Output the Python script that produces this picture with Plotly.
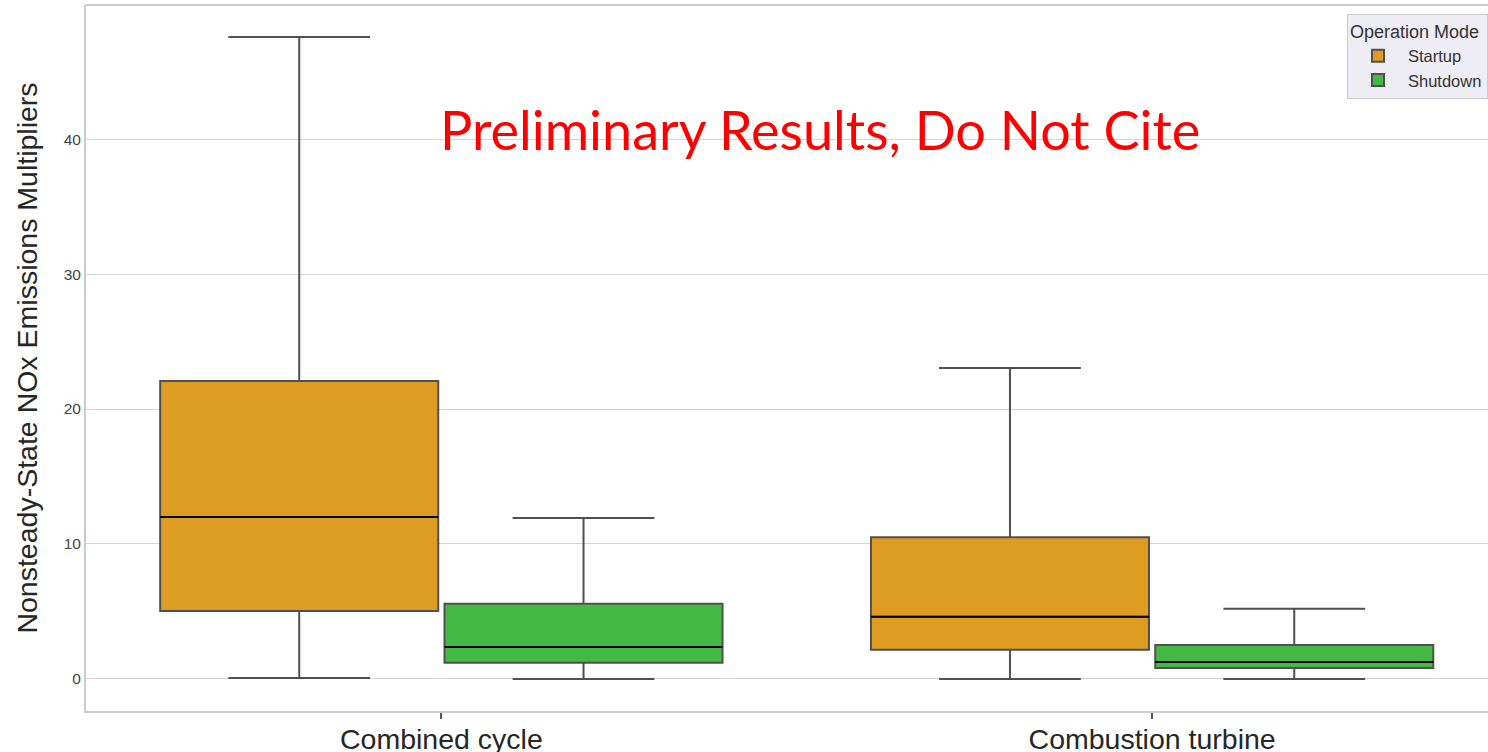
import plotly.graph_objects as go

categories = ["Combined cycle", "Combustion turbine"]
modes = ["Startup", "Shutdown"]
colors = {"Startup": "#DF9C22", "Shutdown": "#44B944"}

startup_lower = [0.07, 0.0]
startup_q1 = [5.04, 2.15]
startup_median = [12.0, 4.6]
startup_q3 = [22.07, 10.5]
startup_upper = [47.56, 23.04]

shutdown_lower = [0.0, 0.0]
shutdown_q1 = [1.19, 0.81]
shutdown_median = [2.37, 1.26]
shutdown_q3 = [5.56, 2.52]
shutdown_upper = [11.93, 5.19]

stats = {
    "Startup": (startup_lower, startup_q1, startup_median, startup_q3, startup_upper),
    "Shutdown": (shutdown_lower, shutdown_q1, shutdown_median, shutdown_q3, shutdown_upper),
}

y_ticks = [0, 10, 20, 30, 40]

fig = go.Figure()
for m in modes:
    lo, q1, med, q3, hi = stats[m]
    fig.add_trace(go.Box(
        name=m, x=categories, lowerfence=lo, q1=q1, median=med, q3=q3, upperfence=hi,
        fillcolor=colors[m], line=dict(color="#505050", width=2),
        whiskerwidth=0.51, offsetgroup=m, alignmentgroup="a", boxpoints=False,
        legendgroup=m, hoverinfo="skip",
    ))
for m in modes:
    lo, q1, med, q3, hi = stats[m]
    fig.add_trace(go.Box(
        name=m, x=categories, lowerfence=med, q1=med, median=med, q3=med, upperfence=med,
        fillcolor="rgba(0,0,0,0)", line=dict(color="#000000", width=2),
        whiskerwidth=0, offsetgroup=m, alignmentgroup="a", boxpoints=False,
        showlegend=False, legendgroup=m, hoverinfo="skip",
    ))

PL, PR, PT, PB = 86, 1488, 5, 711

fig.update_layout(
    width=1488, height=752,
    margin=dict(l=PL, r=1488 - PR, t=PT, b=752 - PB, autoexpand=False),
    paper_bgcolor="white", plot_bgcolor="white",
    boxmode="group", boxgap=0.2, boxgroupgap=0.022,
    font=dict(family="Liberation Sans, Arial, sans-serif", color="#333333"),
    xaxis=dict(
        range=[-0.5, 1.4726], showgrid=False, showline=True, linecolor="#cccccc", linewidth=2,
        ticks="outside", ticklen=6, tickcolor="#555555", tickwidth=1.5, automargin=False,
        tickfont=dict(size=28.5, color="#262626"), zeroline=False, ticklabelstandoff=-4,
    ),
    yaxis=dict(
        range=[-2.38, 49.94], tickvals=y_ticks, ticktext=[str(v) for v in y_ticks],
        showgrid=True, gridcolor="#d6d6d6", gridwidth=1.3, showline=True, linecolor="#cccccc",
        linewidth=2, zeroline=False, ticks="", tickfont=dict(size=15.5, color="#444444"),
        automargin=False,
        title=dict(text="Nonsteady-State NOx Emissions Multipliers", font=dict(size=28.5, color="#262626"), standoff=18),
    ),
    legend=dict(
        x=(1347 - PL) / (PR - PL), y=(PB - 14) / (PB - PT),
        xanchor="left", yanchor="top",
        bgcolor="rgba(236,236,242,0.92)", bordercolor="#cccccc", borderwidth=1,
        title=dict(text="Operation Mode", font=dict(size=18, color="#333333")),
        font=dict(size=16.5, color="#333333"), tracegroupgap=0, itemwidth=50,
    ),
    shapes=[dict(type="line", xref="paper", yref="paper", x0=0, x1=1, y0=1, y1=1,
                 line=dict(color="#cccccc", width=2))],
    annotations=[dict(
        text="Preliminary Results, Do Not Cite", xref="paper", yref="paper",
        x=(820 - PL) / (PR - PL), y=(PB - 130) / (PB - PT), xanchor="center", yanchor="middle",
        showarrow=False, font=dict(family="Lato, Open Sans, sans-serif", size=54, color="#ff0000"),
    )],
)

fig.write_html("out.html", config={"displayModeBar": False},
               post_script="document.body.style.margin='0';document.body.style.overflow='hidden';")
